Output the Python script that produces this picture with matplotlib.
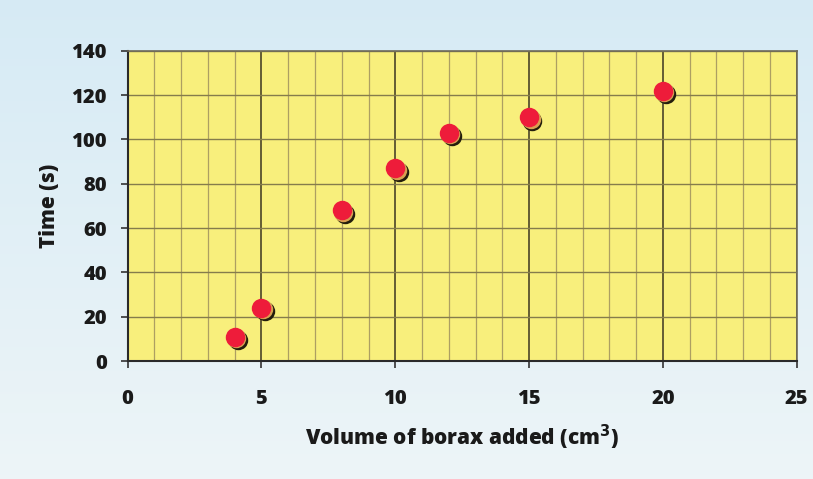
import numpy as np
import matplotlib
matplotlib.use("Agg")
import matplotlib.pyplot as plt
import matplotlib.transforms as mtransforms
from matplotlib.ticker import MultipleLocator

volume = [4, 5, 8, 10, 12, 15, 20]
time_s = [11, 24, 68, 87, 103, 110, 122]
x_ticks = [0, 5, 10, 15, 20, 25]
y_ticks = [0, 20, 40, 60, 80, 100, 120, 140]

plt.rcParams['font.family'] = ['Open Sans', 'DejaVu Sans']

fig = plt.figure(figsize=(8.13, 4.79), dpi=100)
# background gradient
bg = fig.add_axes([0, 0, 1, 1], zorder=-10)
grad = np.linspace(0, 1, 256).reshape(-1, 1)
top_c = np.array([0.84, 0.92, 0.96])
bot_c = np.array([0.93, 0.96, 0.97])
img = top_c[None, None, :] * (1 - grad[:, :, None]) + bot_c[None, None, :] * grad[:, :, None]
bg.imshow(img, aspect='auto', extent=[0, 1, 0, 1], origin='upper')
bg.axis('off')

ax = fig.add_axes([0.157, 0.246, 0.823, 0.648])
ax.set_facecolor('#f8ef7c')
ax.set_xlim(0, 25)
ax.set_ylim(0, 140)
ax.set_xticks(x_ticks)
ax.set_yticks(y_ticks)
ax.xaxis.set_minor_locator(MultipleLocator(1))

ax.grid(which='minor', axis='x', color='#ad9f62', linewidth=0.9)
ax.grid(which='major', axis='x', color='#4a4428', linewidth=1.2)
ax.grid(which='major', axis='y', color='#857c4c', linewidth=1.0)
ax.set_axisbelow(True)

ax.tick_params(which='minor', length=0)
ax.tick_params(which='major', direction='out', length=5, width=1.2, color='#333333')
ax.tick_params(axis='x', pad=15, labelsize=14.5)
ax.tick_params(axis='y', pad=10, labelsize=14.5)
for lab in ax.get_xticklabels() + ax.get_yticklabels():
    lab.set_fontweight('heavy')
    lab.set_color('#1a1a1a')

for s in ['left', 'bottom']:
    ax.spines[s].set_color('#2a2a2a')
    ax.spines[s].set_linewidth(1.5)
for s in ['top', 'right']:
    ax.spines[s].set_color('#6e6a5a')
    ax.spines[s].set_linewidth(1.2)

# markers with shadow
sh1 = mtransforms.offset_copy(ax.transData, fig=fig, x=2.4, y=-2.4, units='points')
sh2 = mtransforms.offset_copy(ax.transData, fig=fig, x=1.1, y=-1.1, units='points')
ax.plot(volume, time_s, 'o', ms=14, color='#231d0c', mec='none', transform=sh1, zorder=3, clip_on=False)
ax.plot(volume, time_s, 'o', ms=14, color='#d9a050', mec='none', transform=sh2, zorder=4, clip_on=False)
ax.plot(volume, time_s, 'o', ms=14, color='#ee1c3a', mec='none', zorder=5, clip_on=False)

ax.set_xlabel('Volume of borax added (cm$^\\mathbf{3}$)', fontsize=15, fontweight='heavy',
              labelpad=10, color='#1a1a1a')
ax.set_ylabel('Time (s)', fontsize=15, fontweight='heavy', labelpad=8, color='#1a1a1a')

fig.savefig('out.png', dpi=100)
